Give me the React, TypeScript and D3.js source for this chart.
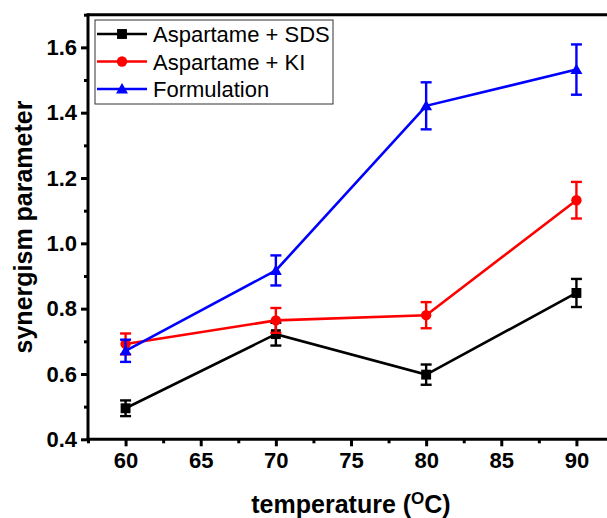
import { useEffect, useRef } from "react";
import * as d3 from "d3";

const temps = [60, 70, 80, 90];
const sds = [0.495, 0.722, 0.598, 0.848];
const sdsErr = [0.024, 0.035, 0.031, 0.043];
const ki = [0.692, 0.764, 0.78, 1.132];
const kiErr = [0.032, 0.038, 0.04, 0.056];
const form = [0.671, 0.917, 1.421, 1.532];
const formErr = [0.034, 0.046, 0.072, 0.077];
const seriesNames = ["Aspartame + SDS", "Aspartame + KI", "Formulation"];
const xTicks = [60, 65, 70, 75, 80, 85, 90];
const yTicks = [0.4, 0.6, 0.8, 1.0, 1.2, 1.4, 1.6];

const FONT = "'Liberation Sans', Arial, sans-serif";

export default function App() {
  const ref = useRef<SVGSVGElement | null>(null);

  useEffect(() => {
    document.body.style.margin = "0";
    const width = 607;
    const height = 518;
    const svg = d3.select(ref.current);
    svg.selectAll("*").remove();
    svg.attr("width", width).attr("height", height).style("display", "block");

    const left = 88;
    const right = 614;
    const top = 14.7;
    const bottom = 439.3;

    const x = d3.scaleLinear().domain([57.5, 92.5]).range([left, right]);
    const y = d3.scaleLinear().domain([0.4, 1.7]).range([bottom, top]);

    const series = [
      { name: seriesNames[0], vals: sds, err: sdsErr, color: "#000000", shape: "square" },
      { name: seriesNames[1], vals: ki, err: kiErr, color: "#ff0000", shape: "circle" },
      { name: seriesNames[2], vals: form, err: formErr, color: "#0000ff", shape: "triangle" },
    ];

    const symbolFor = (shape: string) =>
      shape === "square"
        ? d3.symbol(d3.symbolSquare, 98)
        : shape === "circle"
        ? d3.symbol(d3.symbolCircle, 85)
        : d3.symbol(d3.symbolTriangle, 62);

    // frame (right side falls outside the picture)
    const frame = svg.append("g").attr("stroke", "#000").attr("stroke-width", 3);
    frame.append("line").attr("x1", left).attr("x2", width).attr("y1", top).attr("y2", top);
    frame.append("line").attr("x1", left - 1.5).attr("x2", width).attr("y1", bottom).attr("y2", bottom);
    frame.append("line").attr("x1", left).attr("x2", left).attr("y1", top - 1.5).attr("y2", bottom);

    // x axis
    const xMinor = d3.range(57.5, 92.6, 2.5).filter((v) => v % 5 !== 0);
    svg
      .append("g")
      .attr("transform", `translate(0,${bottom})`)
      .call(d3.axisBottom(x).tickValues(xMinor).tickSize(4).tickFormat(() => ""))
      .call((g) => g.select(".domain").remove())
      .call((g) => g.selectAll("line").attr("stroke-width", 3));
    svg
      .append("g")
      .attr("transform", `translate(0,${bottom})`)
      .call(d3.axisBottom(x).tickValues(xTicks).tickSize(7).tickPadding(6).tickFormat(d3.format("d")))
      .call((g) => g.select(".domain").remove())
      .call((g) => g.selectAll("line").attr("stroke-width", 3))
      .call((g) =>
        g
          .selectAll("text")
          .attr("font-family", FONT)
          .attr("font-size", 22)
          .attr("font-weight", "bold")
          .attr("fill", "#000")
      );

    // y axis
    const yMinor = d3.range(0.5, 1.75, 0.2);
    svg
      .append("g")
      .attr("transform", `translate(${left},0)`)
      .call(d3.axisLeft(y).tickValues(yMinor).tickSize(4).tickFormat(() => ""))
      .call((g) => g.select(".domain").remove())
      .call((g) => g.selectAll("line").attr("stroke-width", 3));
    svg
      .append("g")
      .attr("transform", `translate(${left},0)`)
      .call(d3.axisLeft(y).tickValues(yTicks).tickSize(7).tickPadding(4).tickFormat(d3.format(".1f")))
      .call((g) => g.select(".domain").remove())
      .call((g) => g.selectAll("line").attr("stroke-width", 3))
      .call((g) =>
        g
          .selectAll("text")
          .attr("font-family", FONT)
          .attr("font-size", 22)
          .attr("font-weight", "bold")
          .attr("fill", "#000")
      );

    // series
    const line = d3
      .line<number>()
      .x((_, i) => x(temps[i]))
      .y((d) => y(d));

    series.forEach((s) => {
      const g = svg.append("g");
      g.append("path")
        .attr("d", line(s.vals))
        .attr("fill", "none")
        .attr("stroke", s.color)
        .attr("stroke-width", 2.6);
      const eb = g
        .selectAll("g.eb")
        .data(s.vals)
        .join("g")
        .attr("stroke", s.color)
        .attr("stroke-width", 2.4);
      eb.append("line")
        .attr("x1", (_, i) => x(temps[i]))
        .attr("x2", (_, i) => x(temps[i]))
        .attr("y1", (d, i) => y(d + s.err[i]))
        .attr("y2", (d, i) => y(d - s.err[i]));
      eb.append("line")
        .attr("x1", (_, i) => x(temps[i]) - 5.5)
        .attr("x2", (_, i) => x(temps[i]) + 5.5)
        .attr("y1", (d, i) => y(d + s.err[i]))
        .attr("y2", (d, i) => y(d + s.err[i]));
      eb.append("line")
        .attr("x1", (_, i) => x(temps[i]) - 5.5)
        .attr("x2", (_, i) => x(temps[i]) + 5.5)
        .attr("y1", (d, i) => y(d - s.err[i]))
        .attr("y2", (d, i) => y(d - s.err[i]));
      g.selectAll("path.pt")
        .data(s.vals)
        .join("path")
        .attr("class", "pt")
        .attr("d", symbolFor(s.shape)())
        .attr("transform", (d, i) => `translate(${x(temps[i])},${y(d) + (s.shape === "triangle" ? 1 : 0)})`)
        .attr("fill", s.color);
    });

    // legend
    const lg = svg.append("g");
    lg.append("rect")
      .attr("x", 95)
      .attr("y", 20)
      .attr("width", 238)
      .attr("height", 84)
      .attr("fill", "#fff")
      .attr("stroke", "#333")
      .attr("stroke-width", 1);
    series.forEach((s, i) => {
      const cy = 34 + i * 27.5;
      lg.append("line")
        .attr("x1", 97)
        .attr("x2", 147)
        .attr("y1", cy)
        .attr("y2", cy)
        .attr("stroke", s.color)
        .attr("stroke-width", 2.6);
      lg.append("path")
        .attr("d", symbolFor(s.shape)())
        .attr("transform", `translate(122,${cy + (s.shape === "triangle" ? 1 : 0)})`)
        .attr("fill", s.color);
      lg.append("text")
        .attr("x", 153)
        .attr("y", cy + 8)
        .attr("font-family", FONT)
        .attr("font-size", 22)
        .attr("fill", "#000")
        .text(s.name);
    });

    // axis titles
    const xt = svg
      .append("text")
      .attr("x", (left + right) / 2)
      .attr("y", 513)
      .attr("text-anchor", "middle")
      .attr("font-family", FONT)
      .attr("font-size", 25)
      .attr("font-weight", "bold")
      .attr("fill", "#000");
    xt.append("tspan").text("temperature (");
    xt.append("tspan").attr("font-size", 17).attr("dy", -9).text("O");
    xt.append("tspan").attr("dy", 9).text("C)");

    svg
      .append("text")
      .attr("transform", `translate(32,${(top + bottom) / 2}) rotate(-90)`)
      .attr("text-anchor", "middle")
      .attr("font-family", FONT)
      .attr("font-size", 25)
      .attr("font-weight", "bold")
      .attr("fill", "#000")
      .text("synergism parameter");
  }, []);

  return <svg ref={ref} role="img" aria-label="Synergism parameter vs temperature" />;
}
